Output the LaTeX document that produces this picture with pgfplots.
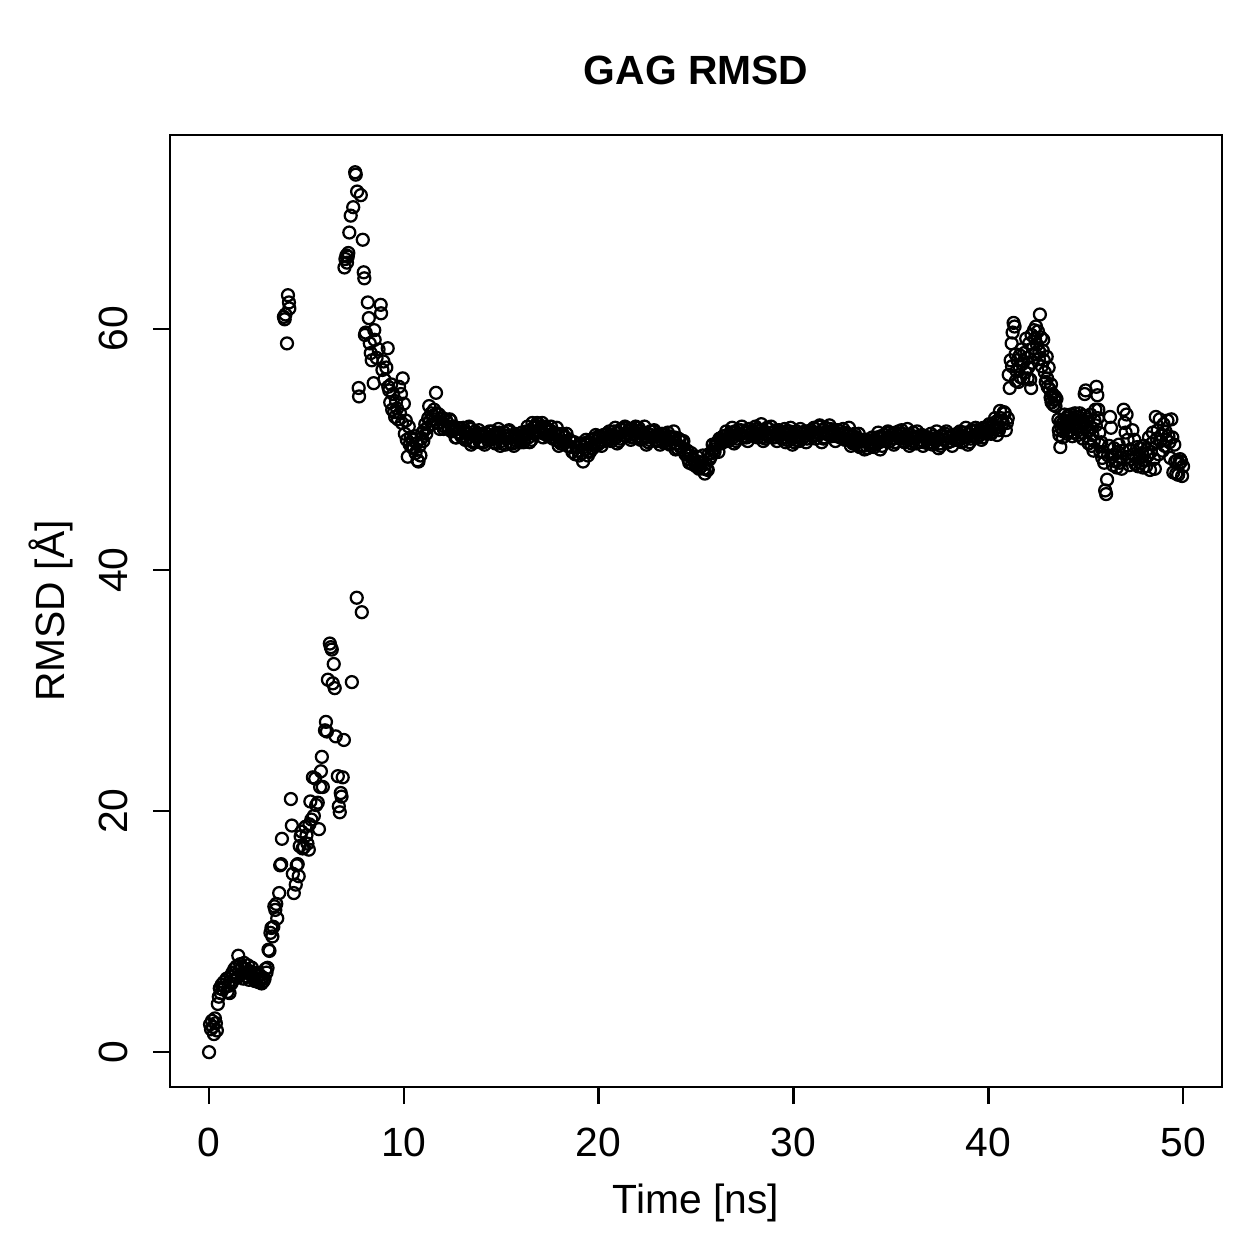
\documentclass[border=0pt]{standalone}
\usepackage{fontspec}
\setmainfont{Liberation Sans}
\usepackage{pgfplots}
\usepackage{pgfplotstable}
\pgfplotsset{compat=1.18}

% RMSD of the GAG chain along the trajectory (time in ns, RMSD in Angstrom)
\pgfplotstableread{
t r
0.00 0.0
0.05 2.3
0.10 1.9
0.15 2.6
0.20 2.1
0.25 1.5
0.30 2.8
0.35 2.4
0.40 1.8
0.45 4.0
0.50 4.6
0.55 5.3
0.60 4.9
0.65 5.6
0.70 5.2
0.75 5.8
0.80 5.4
0.90 6.1
0.95 5.0
1.00 5.5
1.05 4.9
1.10 6.3
1.15 5.7
1.20 6.6
1.25 6.0
1.30 6.9
1.35 6.4
1.40 7.1
1.45 6.2
1.50 8.0
1.55 6.8
1.60 7.3
1.65 6.5
1.70 7.0
1.75 6.1
1.80 7.4
1.85 6.6
1.90 6.9
1.95 6.3
2.00 7.2
2.05 6.0
2.10 6.7
2.15 6.4
2.20 7.0
2.25 6.2
2.30 6.6
2.35 5.9
2.40 6.5
2.45 6.1
2.50 6.3
2.55 5.8
2.60 6.4
2.65 6.0
2.70 5.7
2.75 6.2
2.80 5.9
2.85 6.1
2.90 6.9
2.95 6.6
3.00 7.0
3.05 8.5
3.10 8.4
3.15 9.9
3.20 10.3
3.25 9.6
3.30 10.4
3.35 12.1
3.40 11.8
3.45 12.3
3.50 11.1
3.60 13.2
3.65 15.5
3.70 15.6
3.74 17.7
3.84 61.0
3.88 60.8
3.92 61.2
4.00 58.8
4.05 62.8
4.10 62.2
4.12 61.7
4.20 21.0
4.25 18.8
4.30 14.8
4.35 13.2
4.45 13.9
4.50 15.5
4.55 15.6
4.60 14.6
4.65 17.1
4.70 17.9
4.75 18.3
4.80 16.9
4.87 17.0
4.95 18.7
5.00 18.0
5.05 17.3
5.12 16.8
5.15 18.9
5.20 20.8
5.25 19.3
5.33 22.8
5.38 19.6
5.45 22.7
5.50 20.5
5.58 20.7
5.64 18.5
5.70 22.0
5.74 23.3
5.79 24.5
5.84 22.0
5.95 26.7
6.00 27.4
6.05 26.6
6.10 30.9
6.20 33.9
6.25 33.6
6.30 33.4
6.35 30.6
6.40 32.2
6.45 30.2
6.50 26.2
6.61 22.9
6.66 20.4
6.71 19.9
6.76 21.5
6.80 21.2
6.86 22.8
6.92 25.9
6.95 65.1
7.00 65.8
7.05 66.1
7.08 65.5
7.12 66.0
7.15 66.3
7.20 68.0
7.27 69.4
7.33 30.7
7.40 70.1
7.50 73.0
7.53 72.8
7.58 37.7
7.60 71.4
7.68 55.1
7.70 54.4
7.79 71.1
7.84 36.5
7.89 67.4
7.94 64.7
7.97 64.2
8.00 59.5
8.04 59.7
8.15 62.2
8.20 60.9
8.25 58.8
8.30 58.0
8.35 57.4
8.45 55.5
8.48 59.9
8.50 59.1
8.60 57.6
8.70 58.3
8.81 62.0
8.83 61.3
8.90 56.6
8.95 57.3
9.00 55.8
9.10 56.8
9.17 58.4
9.20 55.2
9.25 54.9
9.30 53.9
9.35 55.4
9.40 53.3
9.45 54.6
9.50 53.1
9.55 52.7
9.60 54.0
9.65 53.4
9.70 52.5
9.75 55.2
9.80 53.0
9.85 54.6
9.90 52.2
9.94 55.9
10.00 53.8
10.05 51.3
10.10 52.4
10.15 50.8
10.20 49.4
10.25 51.9
10.30 50.4
10.35 51.0
10.40 50.2
10.45 50.8
10.50 50.1
10.55 51.1
10.60 49.7
10.65 50.5
10.70 49.1
10.75 49.0
10.80 50.3
10.85 49.5
10.90 50.9
10.95 51.4
11.00 50.7
11.05 51.6
11.10 52.1
11.15 51.3
11.20 51.8
11.25 52.6
11.30 53.6
11.35 52.4
11.40 53.0
11.45 52.1
11.50 52.8
11.55 53.3
11.60 52.5
11.65 54.7
11.70 53.0
11.75 52.2
11.80 52.9
11.85 51.7
11.90 52.5
12.0 52.6
12.1 51.9
12.2 52.3
12.3 51.8
12.4 52.4
12.5 51.6
12.6 51.8
12.7 51.0
12.8 51.4
12.9 51.7
13.0 51.0
13.1 51.5
13.2 50.8
13.3 51.3
13.4 51.7
13.5 51.2
13.6 50.7
13.7 51.1
13.8 51.3
13.9 50.6
14.0 51.3
14.1 50.6
14.2 51.1
14.3 50.8
14.4 51.5
14.5 50.9
14.6 51.2
14.7 50.5
14.8 51.0
14.9 51.4
15.0 50.7
15.1 51.2
15.2 50.4
15.3 51.1
15.4 51.6
15.5 51.0
15.6 50.5
15.7 51.3
15.8 50.7
15.9 51.1
16.0 50.6
16.1 51.2
16.2 50.9
16.3 51.5
16.4 51.0
16.5 51.6
16.6 52.2
16.7 51.3
16.8 51.9
16.9 52.1
17.0 51.5
17.1 52.2
17.2 51.3
17.3 51.8
17.4 51.1
17.5 51.6
17.6 51.0
17.7 51.4
17.8 50.8
17.9 51.3
18.0 50.7
18.1 51.2
18.2 50.6
18.3 51.0
18.4 50.3
18.5 50.8
18.6 50.2
18.7 50.6
18.8 49.6
18.9 50.2
19.0 49.5
19.1 50.3
19.2 49.0
19.3 50.0
19.4 50.6
19.5 49.9
19.6 50.5
19.7 50.1
19.8 50.9
19.9 50.4
20.0 51.1
20.1 50.6
20.2 51.0
20.3 50.7
20.4 51.3
20.5 50.8
20.6 51.2
20.7 50.9
20.8 51.5
20.9 51.0
21.0 51.4
21.1 50.9
21.2 51.6
21.3 51.2
21.4 51.8
21.5 51.3
21.6 51.7
21.7 51.0
21.8 51.5
21.9 51.9
22.0 51.1
22.1 51.5
22.2 50.9
22.3 51.4
22.4 51.0
22.5 51.3
22.6 50.8
22.7 51.2
22.8 51.5
22.9 50.8
23.0 51.2
23.1 50.7
23.2 51.1
23.3 50.6
23.4 51.2
23.5 50.8
23.6 51.1
23.7 50.5
23.8 50.9
23.9 51.0
24.0 50.5
24.1 50.9
24.2 50.2
24.3 50.6
24.4 49.9
24.5 49.6
24.6 49.2
24.7 49.5
24.8 48.8
24.9 49.1
25.0 48.6
25.1 49.0
25.2 48.5
25.3 48.9
25.4 48.4
25.5 48.8
25.6 48.3
25.7 49.2
25.8 49.7
25.9 50.0
26.0 50.4
26.1 50.6
26.2 50.9
26.3 50.5
26.4 51.1
26.5 50.8
26.6 51.2
26.7 50.9
26.8 51.4
26.9 51.0
27.0 51.5
27.1 50.9
27.2 51.3
27.3 51.6
27.4 51.1
27.5 51.4
27.6 51.0
27.7 51.7
27.8 51.2
27.9 51.5
28.0 51.1
28.1 51.7
28.2 51.3
28.3 51.6
28.4 51.0
28.5 51.5
28.6 51.2
28.7 51.7
28.8 51.1
28.9 51.4
29.0 51.0
29.1 51.6
29.2 51.2
29.3 51.5
29.4 50.9
29.5 51.3
29.6 50.6
29.7 51.2
29.8 51.5
29.9 50.9
30.0 51.3
30.1 50.8
30.2 51.1
30.3 50.7
30.4 51.4
30.5 51.0
30.6 51.5
30.7 50.9
30.8 51.3
30.9 51.6
31.0 51.1
31.1 51.7
31.2 51.2
31.3 51.9
31.4 51.3
31.5 51.6
31.6 51.0
31.7 51.5
31.8 51.2
31.9 51.7
32.0 51.2
32.1 51.5
32.2 51.1
32.3 51.6
32.4 51.0
32.5 51.3
32.6 50.9
32.7 51.4
32.8 50.8
32.9 51.2
33.0 50.7
33.1 51.1
33.2 50.5
33.3 50.9
33.4 50.2
33.5 50.7
33.6 50.3
33.7 50.8
33.8 50.1
33.9 50.6
34.0 50.3
34.1 50.8
34.2 50.4
34.3 51.0
34.4 50.6
34.5 51.1
34.6 50.7
34.7 51.2
34.8 50.8
34.9 51.4
35.0 50.9
35.1 51.3
35.2 50.6
35.3 51.2
35.4 51.5
35.5 50.9
35.6 51.3
35.7 50.6
35.8 51.1
35.9 50.8
36.0 51.2
36.1 50.7
36.2 51.0
36.3 50.5
36.4 51.1
36.5 50.8
36.6 51.2
36.7 50.6
36.8 51.0
36.9 50.5
37.0 50.9
37.1 50.6
37.2 51.1
37.3 50.7
37.4 51.0
37.5 50.5
37.6 51.1
37.7 50.8
37.8 51.3
37.9 50.6
38.0 51.0
38.1 50.7
38.2 51.2
38.3 50.8
38.4 51.3
38.5 50.9
38.6 51.2
38.7 50.7
38.8 51.4
38.9 51.0
39.0 51.3
39.1 50.9
39.2 51.5
39.3 51.1
39.4 51.6
39.5 51.2
39.6 51.5
39.7 51.0
39.8 51.7
39.9 51.3
40.0 51.8
40.1 51.4
40.2 52.1
40.3 51.7
40.4 52.3
40.5 51.8
40.6 53.2
40.7 52.4
40.8 53.1
40.9 51.6
12.05 51.7
12.15 52.5
12.25 51.9
12.35 52.5
12.45 51.5
12.55 51.9
12.65 51.0
12.75 51.8
12.85 51.4
12.95 51.1
13.05 51.8
13.15 50.8
13.25 51.3
13.35 51.9
13.45 50.4
13.55 50.6
13.65 51.5
13.75 51.0
13.85 51.6
13.95 50.7
14.05 51.2
14.15 50.4
14.25 51.3
14.35 51.0
14.45 50.8
14.55 51.5
14.65 50.6
14.75 51.1
14.85 51.7
14.95 50.3
15.05 50.5
15.15 51.4
15.25 50.9
15.35 51.5
15.45 50.6
15.55 51.1
15.65 50.3
15.75 51.2
15.85 50.9
15.95 50.7
16.05 51.4
16.15 50.6
16.25 51.2
16.35 51.9
16.45 50.6
16.55 50.8
16.65 51.8
16.75 51.4
16.85 52.2
16.95 51.4
17.05 51.9
17.15 51.0
17.25 51.9
17.35 51.5
17.45 51.2
17.55 51.9
17.65 50.9
17.75 51.3
17.85 51.8
17.95 50.3
18.05 50.5
18.15 51.3
18.25 50.7
18.35 51.3
18.45 50.3
18.55 50.7
18.65 49.8
18.75 50.6
18.85 50.2
18.95 49.9
19.05 50.5
19.15 49.7
19.25 50.2
19.35 50.8
19.45 49.5
19.55 49.8
19.65 50.8
19.75 50.4
19.85 51.2
19.95 50.4
20.05 51.0
20.15 50.3
20.25 51.2
20.35 50.9
20.45 50.8
20.55 51.5
20.65 50.7
20.75 51.2
20.85 51.8
20.95 50.5
21.05 50.7
21.15 51.7
21.25 51.2
21.35 51.9
21.45 51.1
21.55 51.6
21.65 50.8
21.75 51.7
21.85 51.3
21.95 51.1
22.05 51.8
22.15 50.8
22.25 51.3
22.35 51.9
22.45 50.4
22.55 50.6
22.65 51.5
22.75 51.0
22.85 51.6
22.95 50.7
23.05 51.2
23.15 50.4
23.25 51.3
23.35 50.9
23.45 50.7
23.55 51.4
23.65 50.4
23.75 50.9
23.85 51.5
23.95 50.0
24.05 50.1
24.15 50.8
24.25 50.2
24.35 50.7
24.45 49.6
24.55 49.9
24.65 48.9
24.75 49.7
24.85 49.2
24.95 48.8
25.05 49.4
25.15 48.4
25.25 48.9
25.35 49.5
25.45 48.0
25.55 48.4
25.65 49.6
25.75 49.4
25.85 50.4
25.95 49.8
26.05 50.5
26.15 49.8
26.25 50.9
26.35 50.8
26.45 50.7
26.55 51.5
26.65 50.7
26.75 51.2
26.85 51.8
26.95 50.5
27.05 50.7
27.15 51.6
27.25 51.2
27.35 51.9
27.45 51.0
27.55 51.5
27.65 50.7
27.75 51.7
27.85 51.4
27.95 51.2
28.05 51.9
28.15 51.0
28.25 51.5
28.35 52.1
28.45 50.7
28.55 50.9
28.65 51.8
28.75 51.2
28.85 51.9
28.95 51.0
29.05 51.5
29.15 50.7
29.25 51.6
29.35 51.2
29.45 51.0
29.55 51.7
29.65 50.8
29.75 51.3
29.85 51.8
29.95 50.4
30.05 50.6
30.15 51.5
30.25 51.0
30.35 51.7
30.45 50.9
30.55 51.4
30.65 50.6
30.75 51.5
30.85 51.3
30.95 51.1
31.05 51.8
31.15 50.9
31.25 51.4
31.35 52.0
31.45 50.6
31.55 50.9
31.65 51.8
31.75 51.3
31.85 52.0
31.95 51.1
32.05 51.6
32.15 50.7
32.25 51.6
32.35 51.3
32.45 51.0
32.55 51.7
32.65 50.8
32.75 51.2
32.85 51.8
32.95 50.3
33.05 50.5
33.15 51.3
33.25 50.7
33.35 51.3
33.45 50.3
33.55 50.8
33.65 50.0
33.75 50.8
33.85 50.5
33.95 50.3
34.05 51.0
34.15 50.2
34.25 50.7
34.35 51.4
34.45 50.0
34.55 50.3
34.65 51.2
34.75 50.8
34.85 51.5
34.95 50.7
35.05 51.2
35.15 50.4
35.25 51.4
35.35 51.1
35.45 50.9
35.55 51.6
35.65 50.7
35.75 51.1
35.85 51.7
35.95 50.3
36.05 50.5
36.15 51.4
36.25 50.9
36.35 51.5
36.45 50.6
36.55 51.1
36.65 50.3
36.75 51.1
36.85 50.8
36.95 50.6
37.05 51.3
37.15 50.4
37.25 50.9
37.35 51.5
37.45 50.1
37.55 50.3
37.65 51.2
37.75 50.8
37.85 51.5
37.95 50.6
38.05 51.1
38.15 50.3
38.25 51.2
38.35 51.0
38.45 50.8
38.55 51.5
38.65 50.6
38.75 51.1
38.85 51.8
38.95 50.4
39.05 50.6
39.15 51.6
39.25 51.1
39.35 51.8
39.45 51.0
39.55 51.5
39.65 50.8
39.75 51.8
39.85 51.5
39.95 51.4
40.05 52.1
40.15 51.3
40.25 51.9
40.35 52.6
40.45 51.2
40.55 51.6
40.65 52.6
40.75 52.2
40.85 53.0
40.95 52.2
41.00 52.6
41.05 56.2
41.10 55.1
41.15 57.4
41.20 58.8
41.25 59.7
41.30 60.5
41.35 60.2
41.40 57.9
41.45 56.5
41.50 57.4
41.55 55.6
41.60 56.9
41.65 56.0
41.70 58.3
41.75 57.1
41.80 55.9
41.85 58.0
41.90 56.4
41.95 59.2
42.00 57.6
42.05 56.8
42.10 58.8
42.15 55.8
42.20 55.1
42.25 57.2
42.30 58.4
42.35 59.9
42.40 59.2
42.45 60.2
42.50 58.7
42.55 59.8
42.60 57.5
42.65 61.2
42.70 59.3
42.75 56.9
42.80 58.2
42.85 57.4
42.90 56.4
42.95 55.6
43.00 57.7
43.05 55.2
43.10 56.8
43.15 55.0
43.20 54.3
43.25 53.9
43.30 54.6
43.35 53.7
43.40 54.1
43.45 53.6
43.50 54.2
41.22 56.9
41.42 55.7
41.62 57.8
41.82 57.3
42.02 55.9
42.22 59.5
42.42 57.9
42.62 58.1
42.82 59.1
43.02 55.9
43.22 55.4
43.42 54.4
43.60 52.5
43.65 51.2
43.70 50.2
43.75 51.8
43.80 52.1
43.85 51.5
43.90 52.4
43.95 51.9
44.00 52.6
44.05 51.3
44.10 52.8
44.15 52.2
44.20 51.6
44.25 52.9
44.30 52.0
44.35 51.4
44.40 52.5
44.45 53.0
44.50 51.8
44.55 52.3
44.60 51.2
44.65 52.7
44.70 53.0
44.75 51.9
44.80 52.4
44.85 50.9
44.90 52.1
44.95 54.6
45.00 54.9
45.05 52.3
45.10 51.6
45.15 50.5
45.20 51.6
45.25 52.9
45.30 50.3
45.35 51.2
45.40 49.9
45.45 52.4
45.50 53.3
45.55 55.2
45.60 54.5
45.65 53.3
45.70 51.4
45.75 49.8
45.80 50.6
45.85 49.3
45.90 49.8
45.95 48.9
46.00 46.6
46.05 46.3
46.10 47.5
46.15 49.5
46.20 50.3
46.25 52.7
46.30 51.8
46.35 49.4
46.40 48.7
46.45 50.1
46.50 49.6
46.55 49.0
46.60 48.5
46.65 49.8
46.70 50.4
46.75 48.9
46.80 49.3
46.85 48.4
46.90 49.9
46.95 53.3
47.00 52.2
47.05 51.4
47.10 52.9
47.15 50.8
47.20 49.4
47.25 48.7
47.30 50.0
47.35 49.2
47.40 51.6
47.45 49.6
47.50 50.8
47.55 48.8
47.60 49.4
47.65 50.2
47.70 48.6
47.75 49.3
47.80 50.1
47.85 48.9
47.90 49.7
47.95 48.5
48.00 50.3
48.05 49.1
48.10 48.6
48.15 50.0
48.20 49.5
48.25 51.0
48.30 48.3
48.35 49.8
48.40 50.5
48.45 51.4
48.50 49.2
48.55 48.4
48.60 52.7
48.65 50.9
48.70 51.6
48.75 49.6
48.80 52.5
48.85 50.7
48.90 51.2
48.95 49.9
49.00 52.1
49.05 50.3
49.10 51.5
49.15 50.8
49.20 52.4
49.25 51.1
49.30 50.6
49.35 49.3
49.40 52.5
49.45 51.0
49.50 48.1
49.55 50.4
49.60 49.0
49.65 48.0
49.70 49.1
49.75 47.9
49.80 48.8
49.85 49.2
49.90 49.0
49.95 47.8
50.00 48.6
43.62 51.6
43.72 52.3
43.82 51.0
43.92 52.9
44.02 51.8
44.12 51.5
44.22 52.4
44.32 51.1
44.42 52.0
44.52 52.7
44.62 51.6
44.72 52.2
44.82 51.4
44.92 52.8
45.02 51.9
45.12 52.5
45.22 50.9
45.32 51.8
45.42 50.7
45.52 52.0
45.62 52.6
45.72 50.4
}\rmsd

\begin{document}
\begin{tikzpicture}
\begin{axis}[
  name=ax,
  scale only axis,
  width=421.1bp, height=381.2bp,
  xmin=-2, xmax=52,
  ymin=-2.9, ymax=76.1,
  axis line style={line width=1bp},
  xtick={0,10,20,30,40,50},
  ytick={0,20,40,60},
  minor tick num=0,
  xtick pos=left, ytick pos=left,
  tick align=outside,
  major tick length=6.8bp,
  tick style={line width=1bp, black},
  /pgf/number format/assume math mode=true,
  ticklabel style={font=\fontsize{16.4}{19}\selectfont},
  xticklabel style={anchor=base, yshift=-21bp},
  yticklabel style={xshift=-10.4bp, rotate=90, anchor=base},
  title={GAG RMSD},
  title style={font=\fontsize{16.4}{19}\selectfont\bfseries,
    at={(axis description cs:0.5,1)}, anchor=base, yshift=14bp},
  xlabel={Time [ns]},
  xlabel style={font=\fontsize{16.4}{19}\selectfont,
    at={(axis description cs:0.5,0)}, anchor=base, yshift=-50.4bp},
  ylabel={RMSD [Å]},
  every axis y label/.style={font=\fontsize{16.4}{19}\selectfont,
    at={(axis description cs:0,0.5)}, xshift=-42.4bp, rotate=90, anchor=base},
]
\addplot[only marks, mark=o, mark size=2.4bp,
  mark options={line width=0.9bp, black}] table[x=t, y=r] {\rmsd};
\end{axis}
\path ([xshift=-68.1bp,yshift=-68.8bp]ax.south west)
  rectangle ([xshift=14.8bp,yshift=54bp]ax.north east);
\end{tikzpicture}
\end{document}
